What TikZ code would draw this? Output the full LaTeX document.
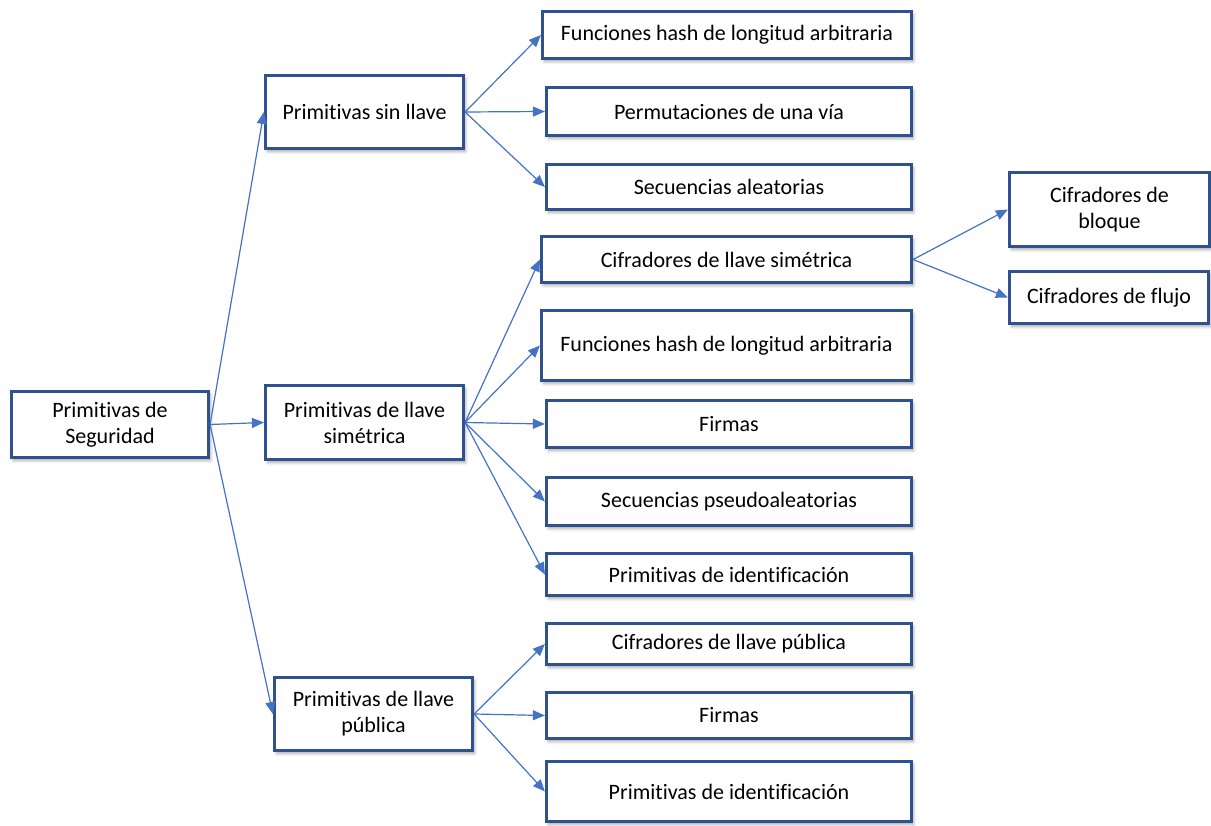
\documentclass[tikz,border=0pt]{standalone}
\usepackage{fontspec}
\setmainfont{Carlito}[Ligatures={NoCommon,NoRare,NoContextual}]
\usetikzlibrary{arrows.meta,shadows.blur}
\definecolor{boxline}{HTML}{2F528F}
\definecolor{linkline}{HTML}{4472C4}
\tikzset{
  item/.style={draw=boxline, line width=3.2pt, fill=white, inner sep=0pt,
    align=center, font=\fontsize{22}{26}\selectfont,
    blur shadow={shadow xshift=2pt, shadow yshift=-3pt, shadow blur radius=3pt, shadow opacity=35}},
  link/.style={draw=linkline, line width=1.2pt, -{Triangle[length=12pt,width=10pt]}}
}
% place a box by its centre and outer size (pt)
\newcommand{\itembox}[6]{%
  \node[item, minimum width=#4pt-3pt, minimum height=#5pt-3pt] (#1) at (#2,#3) {#6};}
\begin{document}
\begin{tikzpicture}[x=1pt,y=-1pt]
\useasboundingbox (0,0) rectangle (1211,826);

\itembox{root}{110}{424.5}{200}{69}{Primitivas de\\Seguridad}
\itembox{sin}{364.5}{112}{201}{76}{Primitivas sin llave}
\itembox{sim}{364.5}{422.5}{201}{77}{Primitivas de llave\\simétrica}
\itembox{pub}{373.5}{714}{201}{76}{Primitivas de llave\\pública}

\itembox{hashA}{727}{35}{372}{50}{Funciones hash de longitud arbitraria}
\itembox{perm}{729}{111.5}{368}{51}{Permutaciones de una vía}
\itembox{secA}{729}{187}{368}{48}{Secuencias aleatorias}

\itembox{cifsim}{726.5}{259.5}{373}{49}{Cifradores de llave simétrica}
\itembox{hashB}{726.5}{345.5}{373}{73}{Funciones hash de longitud arbitraria}
\itembox{firA}{729}{424}{368}{50}{Firmas}
\itembox{secB}{729}{501.5}{368}{51}{Secuencias pseudoaleatorias}
\itembox{idA}{729}{574.5}{368}{45}{Primitivas de identificación}

\itembox{cifpub}{729}{644}{368}{44}{Cifradores de llave pública}
\itembox{firB}{729}{715.5}{368}{49}{Firmas}
\itembox{idB}{729}{791.5}{368}{63}{Primitivas de identificación}

\itembox{bloque}{1109.5}{209.5}{203}{77}{Cifradores de\\bloque}
\itembox{flujo}{1109}{297.5}{202}{55}{Cifradores de flujo}

\foreach \c in {sin,sim,pub} \draw[link] (root.east) -- (\c.west);
\foreach \c in {hashA,perm,secA} \draw[link] (sin.east) -- (\c.west);
\foreach \c in {cifsim,hashB,firA,secB,idA} \draw[link] (sim.east) -- (\c.west);
\foreach \c in {cifpub,firB,idB} \draw[link] (pub.east) -- (\c.west);
\foreach \c in {bloque,flujo} \draw[link] (cifsim.east) -- (\c.west);
\end{tikzpicture}
\end{document}
